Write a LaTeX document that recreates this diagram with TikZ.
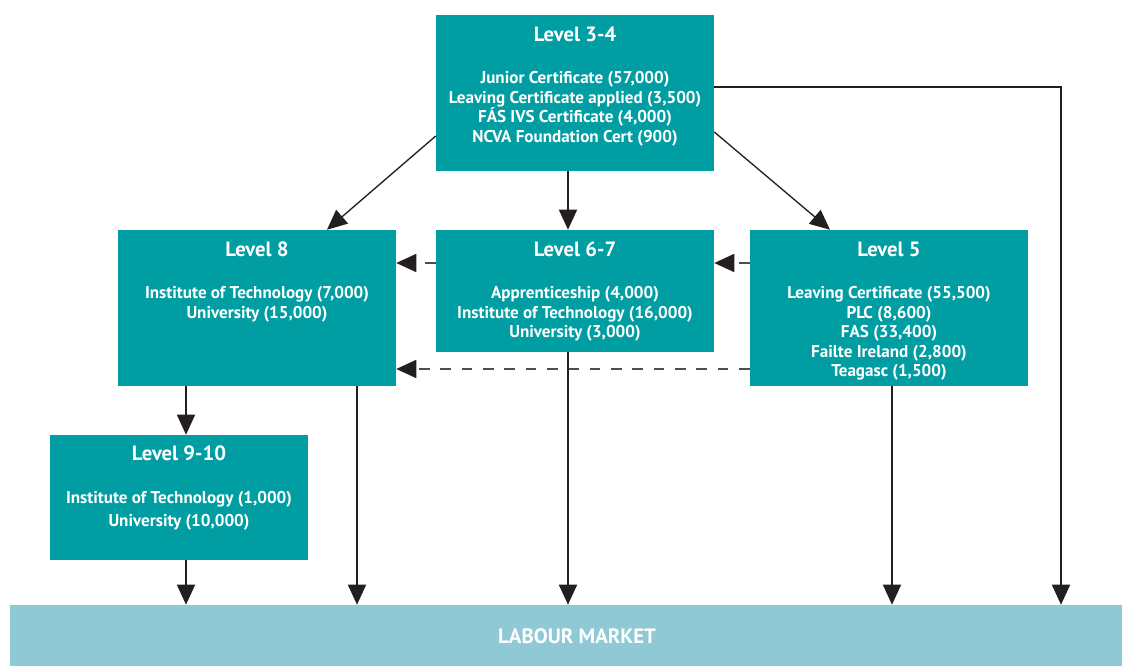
\documentclass[tikz,border=0pt]{standalone}
\usepackage{fontspec}
\setmainfont{PT Sans}
\usetikzlibrary{arrows.meta}
\definecolor{boxteal}{HTML}{009EA3}
\definecolor{lmblue}{HTML}{8FC9D6}
\definecolor{arrowc}{HTML}{231F20}
\definecolor{dashc}{HTML}{4D4D4D}
\begin{document}
\begin{tikzpicture}[x=0.75pt,y=-0.75pt,
  box/.style={fill=boxteal, draw=none, inner sep=0pt, minimum width=208.5pt, minimum height=117pt},
  lmbox/.style={fill=lmblue, draw=none, inner sep=0pt, minimum width=834pt, minimum height=45.75pt},
  title/.style={text=white, font=\bfseries\fontsize{15.5}{17}\selectfont, anchor=base, inner sep=0pt},
  body/.style={text=white, font=\bfseries\fontsize{12.8}{14.6}\selectfont, align=center, anchor=base, inner sep=0pt},
  lmtext/.style={text=white, font=\bfseries\fontsize{15.6}{17}\selectfont, anchor=base, inner sep=0pt},
  flow/.style={draw=arrowc, line width=1.2pt, -{Triangle[length=15pt,width=13.5pt]}},
  crossflow/.style={flow, draw=dashc, dash pattern=on 8pt off 8pt, -{Triangle[length=15pt,width=13.5pt,color=arrowc]}}]
\useasboundingbox (0,0) rectangle (1122,666);

% boxes
\node[box] (l34) at (575,93) {};
\node[box] (l8) at (257,308) {};
\node[box, minimum height=91.5pt] (l67) at (575,291) {};
\node[box] (l5) at (889,308) {};
\node[box, minimum width=193.5pt, minimum height=93.75pt] (l910) at (179,497.5) {};
\node[lmbox] (lm) at (566,635.5) {};

% box texts (multi-line nodes are placed by the baseline of their last line)
\node[title] (t34) at (575,42) {Level 3-4};
\node[body] (b34) at (575,142.2) {Junior Certificate (57,000)\\Leaving Certificate applied (3,500)\\FÁS IVS Certificate (4,000)\\NCVA Foundation Cert (900)};
\node[title] (t8) at (257,257) {Level 8};
\node[body] (b8) at (257,318.3) {Institute of Technology (7,000)\\University (15,000)};
\node[title] (t67) at (575,257) {Level 6-7};
\node[body] (b67) at (575,337.7) {Apprenticeship (4,000)\\Institute of Technology (16,000)\\University (3,000)};
\node[title] (t5) at (889,257) {Level 5};
\node[body] (b5) at (889,376.7) {Leaving Certificate (55,500)\\PLC (8,600)\\FAS (33,400)\\Failte Ireland (2,800)\\Teagasc (1,500)};
\node[title] (t910) at (179,461) {Level 9-10};
\node[body, font=\bfseries\fontsize{12.8}{17.25}\selectfont] (b910) at (179,527) {Institute of Technology (1,000)\\University (10,000)};
\node[lmtext] (tlm) at (577,643) {LABOUR MARKET};

% progression arrows
\draw[flow, line width=1pt] (l34.west |- 0,136) -- (l8.north -| 327,0);
\draw[flow, line width=1pt] (l34.east |- 0,132) -- (l5.north -| 830,0);
\draw[flow] (l34.south -| 568,0) -- (l67.north -| 568,0);
\draw[flow] (l34.east |- 0,87) -| (lm.north -| 1061,0);
\draw[crossflow] (l67.west |- 0,263) -- (l8.east |- 0,263);
\draw[crossflow] (l5.west |- 0,263) -- (l67.east |- 0,263);
\draw[crossflow] (l5.west |- 0,369) -- (l8.east |- 0,369);
\draw[flow] (l8.south -| 186,0) -- (l910.north -| 186,0);
\draw[flow] (l910.south -| 186,0) -- (lm.north -| 186,0);
\draw[flow] (l8.south -| 357,0) -- (lm.north -| 357,0);
\draw[flow] (l67.south -| 568,0) -- (lm.north -| 568,0);
\draw[flow] (l5.south -| 892,0) -- (lm.north -| 892,0);
\end{tikzpicture}
\end{document}
